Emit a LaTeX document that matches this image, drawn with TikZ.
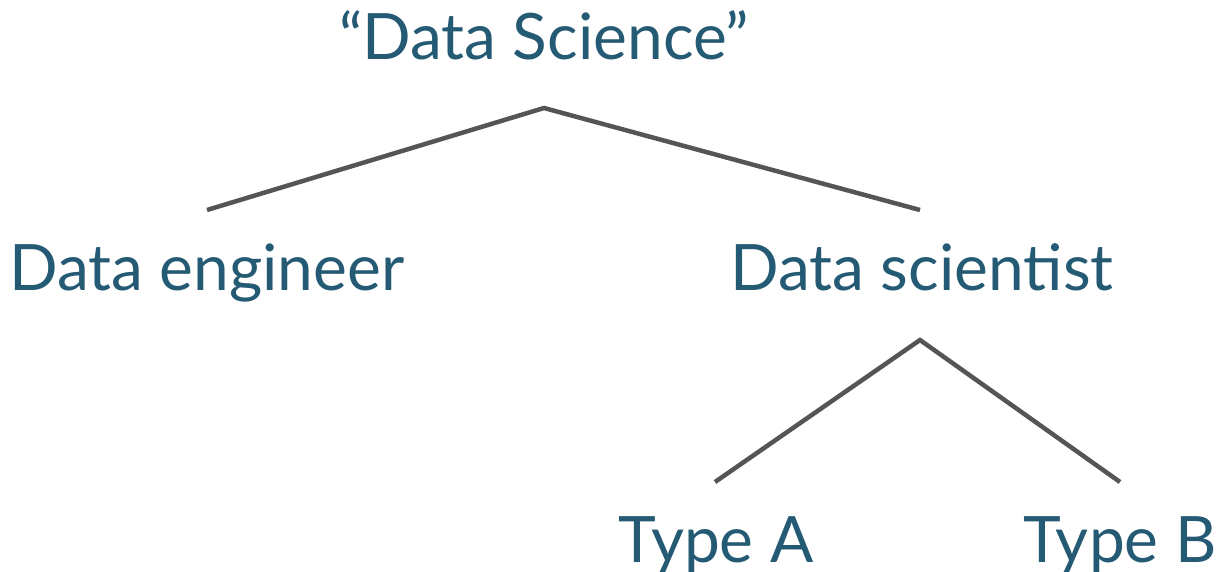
\documentclass[tikz,border=0pt]{standalone}
\usepackage{fontspec}
\setmainfont{Lato}
\definecolor{labelblue}{HTML}{245A73}
\definecolor{edgegray}{HTML}{555555}
\begin{document}
\begin{tikzpicture}[x=1pt,y=-1pt,
  term/.style={inner sep=0pt,anchor=base,text=labelblue,font=\fontsize{64}{70}\selectfont},
  edge/.style={draw=edgegray,line width=4.5pt}]
\useasboundingbox (0,0) rectangle (1218,571);
% labels
\node[term] (root) at (544,59) {“Data Science”};
\node[term] (eng)  at (207,290) {Data engineer};
\node[term] (sci)  at (922,290) {Data scientist};
\node[term] (ta)   at (716,562) {Type A};
\node[term] (tb)   at (1120,562) {Type B};
% branch points
\coordinate (rootb) at (544,108);
\coordinate (engt)  at (207,210);
\coordinate (scit)  at (920,210);
\coordinate (scib)  at (920,340);
\coordinate (tat)   at (715,482);
\coordinate (tbt)   at (1120,482);
% branches
\draw[edge] (engt) -- (rootb) -- (scit);
\draw[edge] (tat) -- (scib) -- (tbt);
\end{tikzpicture}
\end{document}
